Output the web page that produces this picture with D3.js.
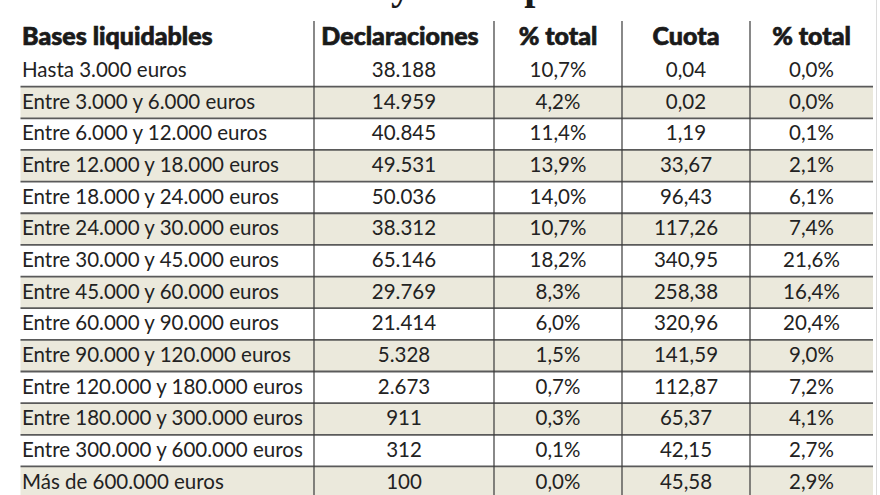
<!DOCTYPE html>
<html>
<head>
<meta charset="utf-8">
<script src="https://cdn.jsdelivr.net/npm/d3@7"></script>
<style>
  html, body { margin: 0; padding: 0; background: #ffffff; }
  svg { display: block; }
</style>
</head>
<body>
<svg id="chart" width="880" height="495"></svg>
<script>
const title = "Declaraciones y cuota por tramos";
const headers = ["Bases liquidables", "Declaraciones", "% total", "Cuota", "% total"];
const tramos = [
  "Hasta 3.000 euros",
  "Entre 3.000 y 6.000 euros",
  "Entre 6.000 y 12.000 euros",
  "Entre 12.000 y 18.000 euros",
  "Entre 18.000 y 24.000 euros",
  "Entre 24.000 y 30.000 euros",
  "Entre 30.000 y 45.000 euros",
  "Entre 45.000 y 60.000 euros",
  "Entre 60.000 y 90.000 euros",
  "Entre 90.000 y 120.000 euros",
  "Entre 120.000 y 180.000 euros",
  "Entre 180.000 y 300.000 euros",
  "Entre 300.000 y 600.000 euros",
  "Más de 600.000 euros"
];
const declaraciones = [38188, 14959, 40845, 49531, 50036, 38312, 65146, 29769, 21414, 5328, 2673, 911, 312, 100];
const pctDeclaraciones = [10.7, 4.2, 11.4, 13.9, 14.0, 10.7, 18.2, 8.3, 6.0, 1.5, 0.7, 0.3, 0.1, 0.0];
const cuota = [0.04, 0.02, 1.19, 33.67, 96.43, 117.26, 340.95, 258.38, 320.96, 141.59, 112.87, 65.37, 42.15, 45.58];
const pctCuota = [0.0, 0.0, 0.1, 2.1, 6.1, 7.4, 21.6, 16.4, 20.4, 9.0, 7.2, 4.1, 2.7, 2.9];

const es = d3.formatLocale({decimal: ",", thousands: ".", grouping: [3], currency: ["", " €"]});
const fInt = es.format(",d");
const fPct = v => es.format(".1f")(v) + "%";
const fCuota = es.format(".2f");

const rows = tramos.map((t, i) => [t, fInt(declaraciones[i]), fPct(pctDeclaraciones[i]), fCuota(cuota[i]), fPct(pctCuota[i])]);

const svg = d3.select("#chart");
const W = 880, H = 495;
const tableLeft = 20.5, tableRight = 873;
const colEdges = [tableLeft, 314, 494, 622, 750, tableRight];
const headerTop = 21, rowsTop = 55, rowH = 31.65;

const y = d3.scaleBand()
  .domain(d3.range(rows.length))
  .range([rowsTop, rowsTop + rowH * rows.length])
  .paddingInner(0).paddingOuter(0);

// Title (cut off at top in the reference, only descenders visible)
const titleText = svg.append("text")
  .attr("x", 0).attr("y", -1)
  .attr("font-family", "'Liberation Serif', 'DejaVu Serif', serif")
  .attr("font-weight", "bold")
  .attr("font-size", 40)
  .attr("fill", "#1a1a1a")
  .text(title);
const yIdx = title.indexOf(" y ") + 1;
const yPos = titleText.node().getStartPositionOfChar(yIdx).x;
titleText.attr("x", 391 - yPos);

// Shaded rows
svg.append("g").selectAll("rect")
  .data(rows.map((r, i) => i).filter(i => i % 2 === 1))
  .join("rect")
  .attr("x", tableLeft)
  .attr("y", i => y(i))
  .attr("width", tableRight - tableLeft)
  .attr("height", y.bandwidth())
  .attr("fill", "#ebe9dc");

// Horizontal separators
svg.append("g").selectAll("line")
  .data(d3.range(1, rows.length))
  .join("line")
  .attr("x1", tableLeft).attr("x2", tableRight)
  .attr("y1", i => y(i)).attr("y2", i => y(i))
  .attr("stroke", "#5a5a5a")
  .attr("stroke-width", 1.8);

// Vertical dividers
svg.append("g").selectAll("line")
  .data(colEdges.slice(1, 5))
  .join("line")
  .attr("x1", d => d).attr("x2", d => d)
  .attr("y1", headerTop).attr("y2", H)
  .attr("stroke", "#3a3a3a")
  .attr("stroke-width", 1.2);

// faint right border
svg.append("line")
  .attr("x1", 876.5).attr("x2", 876.5)
  .attr("y1", 0).attr("y2", H)
  .attr("stroke", "#dcdcdc").attr("stroke-width", 1);

const colCenter = j => (colEdges[j] + colEdges[j + 1]) / 2;

// Header
svg.append("g").selectAll("text")
  .data(headers)
  .join("text")
  .attr("x", (d, j) => j === 0 ? 22 : colCenter(j) - (j === 1 ? 4 : 0))
  .attr("y", 45)
  .attr("text-anchor", (d, j) => j === 0 ? "start" : "middle")
  .attr("font-family", "Lato, 'Open Sans', sans-serif")
  .attr("font-weight", 900)
  .attr("font-size", 25)
  .attr("fill", "#1a1a1a")
  .attr("stroke", "#1a1a1a")
  .attr("stroke-width", 0.7)
  .text(d => d);

// Body cells
const rowG = svg.append("g").selectAll("g")
  .data(rows)
  .join("g")
  .attr("transform", (r, i) => `translate(0,${y(i) + y.bandwidth() * 0.70})`);

rowG.selectAll("text")
  .data(r => r)
  .join("text")
  .attr("x", (d, j) => j === 0 ? 22 : colCenter(j))
  .attr("text-anchor", (d, j) => j === 0 ? "start" : "middle")
  .attr("font-family", "Lato, 'Open Sans', sans-serif")
  .attr("font-size", 20.5)
  .attr("fill", "#222")
  .text(d => d);
</script>
</body>
</html>
